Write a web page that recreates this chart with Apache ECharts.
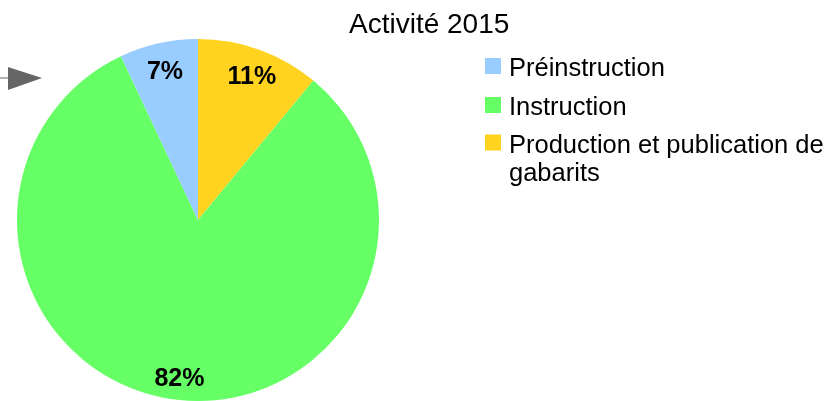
<!DOCTYPE html>
<html>
<head>
<meta charset="utf-8">
<script src="https://cdn.jsdelivr.net/npm/echarts@6/dist/echarts.min.js"></script>
<style>
  html, body { margin: 0; padding: 0; background: #fff; }
  #chart { width: 831px; height: 401px; }
</style>
</head>
<body>
<div id="chart"></div>
<script>
const titleText = 'Activité 2015';
// clockwise from 12 o'clock
const categories = ['Production et publication de gabarits', 'Instruction', 'Préinstruction'];
const shares = [11, 82, 7];
const colors = ['#ffd320', '#66ff66', '#99ccff'];
const legendTop = ['Préinstruction', 'Instruction'];
const legendBottom = ['Production et publication de gabarits'];
const wrappedNames = { 'Production et publication de gabarits': ['Production et publication de', 'gabarits'] };

const font = 'Liberation Sans';
const pieCenter = [198, 220];

const pieData = categories.map((name, i) => ({ name, value: shares[i], itemStyle: { color: colors[i] } }));

const legendText = {
  fontFamily: font,
  fontSize: 25.5,
  color: '#000',
  lineHeight: 28,
  rich: { a: { fontFamily: font, fontSize: 25.5, color: '#000', lineHeight: 28, padding: [6, 0, 0, 3] } },
};

const legendBase = {
  orient: 'vertical',
  left: 485,
  padding: 0,
  itemWidth: 16,
  itemHeight: 16,
  itemGap: 7,
  icon: 'rect',
  selectedMode: false,
  textStyle: legendText,
};

const chart = echarts.init(document.getElementById('chart'), null, { renderer: 'canvas' });

const option = {
  animation: false,
  title: {
    text: titleText,
    left: 349,
    top: 11,
    padding: 0,
    textStyle: { fontFamily: font, fontSize: 28, fontWeight: 'normal', color: '#000' },
  },
  legend: [
    {
      ...legendBase,
      top: 50,
      data: legendTop,
      formatter: (name) => `{a|${name}}`,
    },
    {
      // wrapped entry: a blank first line keeps the swatch level with the first text line
      ...legendBase,
      top: 98.5,
      data: legendBottom,
      formatter: (name) => ['{a| }'].concat(wrappedNames[name].map((line) => `{a|${line}}`)).join('\n'),
    },
  ],
  graphic: [
    {
      type: 'polyline',
      shape: { points: [[0, 78], [10, 78]] },
      style: { stroke: '#666', lineWidth: 1 },
    },
    {
      type: 'polygon',
      shape: { points: [[8, 67], [42, 78], [8, 90]] },
      style: { fill: '#666' },
    },
  ],
  series: [
    {
      type: 'pie',
      center: pieCenter,
      radius: 181,
      startAngle: 90,
      clockwise: true,
      silent: true,
      label: { show: false },
      labelLine: { show: false },
      itemStyle: { borderWidth: 0 },
      data: pieData,
    },
    {
      // transparent ring used only to place the percentage labels
      type: 'pie',
      center: pieCenter,
      radius: [125, 181],
      startAngle: 90,
      clockwise: true,
      silent: true,
      itemStyle: { color: 'rgba(0,0,0,0)', borderWidth: 0 },
      label: {
        show: true,
        position: 'inside',
        formatter: '{c}%',
        fontFamily: font,
        fontSize: 25,
        fontWeight: 'bold',
        color: '#000',
        offset: [1, 4],
      },
      labelLine: { show: false },
      data: categories.map((name, i) => ({ name, value: shares[i] })),
    },
  ],
};

chart.setOption(option);
</script>
</body>
</html>
